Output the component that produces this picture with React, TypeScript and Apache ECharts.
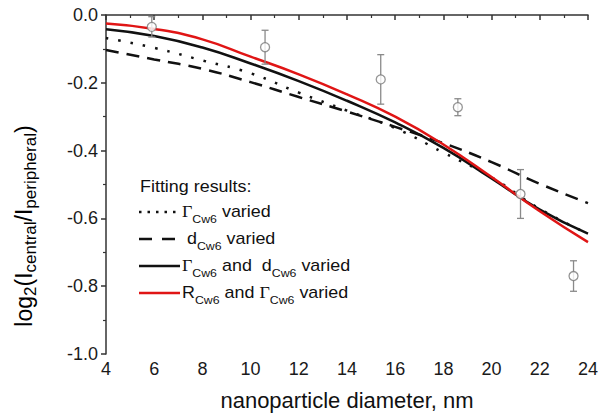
import React, { useEffect, useRef } from 'react';
import * as echarts from 'echarts';

const xFit = [4, 6, 8, 10, 12, 14, 16, 18, 20, 22, 24];
const fitGammaVaried = [-0.068, -0.097, -0.134, -0.172, -0.229, -0.282, -0.334, -0.406, -0.479, -0.572, -0.645];
const fitDVaried = [-0.103, -0.131, -0.159, -0.198, -0.242, -0.285, -0.330, -0.378, -0.434, -0.498, -0.555];
const fitGammaDVaried = [-0.042, -0.062, -0.096, -0.143, -0.195, -0.253, -0.317, -0.392, -0.482, -0.574, -0.645];
const fitRGammaVaried = [-0.025, -0.041, -0.072, -0.123, -0.175, -0.234, -0.300, -0.382, -0.478, -0.579, -0.670];

const expX = [5.9, 10.6, 15.4, 18.6, 21.2, 23.4];
const expY = [-0.035, -0.095, -0.19, -0.272, -0.528, -0.77];
const expErr = [0.03, 0.05, 0.073, 0.025, 0.072, 0.045];

const yTicks = [0, -0.2, -0.4, -0.6, -0.8, -1.0];

const FONT = '"Liberation Sans", Arial, sans-serif';
const SERIF = '"Liberation Serif", "Times New Roman", serif';

const pair = (xs: number[], ys: number[]) => xs.map((x, i) => [x, ys[i]]);

export default function App() {
  const ref = useRef<HTMLDivElement>(null);
  useEffect(() => {
    if (!ref.current) return;
    const chart = echarts.init(ref.current, undefined, { renderer: 'svg' });
    const richLegend = {
      n: { fontSize: 16, fontFamily: FONT, color: '#111', lineHeight: 24, verticalAlign: 'middle' },
      g: { fontSize: 16, fontFamily: SERIF, color: '#111', lineHeight: 24, verticalAlign: 'middle' },
      s: { fontSize: 11, fontFamily: FONT, color: '#111', lineHeight: 10, verticalAlign: 'bottom' },
    };
    const legendRows = [
      { y: 212, text: '{g|Γ}{s|Cw6}{n| varied}', tx: 182, line: { stroke: '#111', lineDash: [2.5, 6], x1: 139, x2: 180 } },
      { y: 239, text: '{n|d}{s|Cw6}{n| varied}', tx: 187, line: { stroke: '#111', lineDash: [13, 10], x1: 139, x2: 176 } },
      { y: 266, text: '{g|Γ}{s|Cw6}{n| and  d}{s|Cw6}{n| varied}', tx: 182, line: { stroke: '#111', lineDash: null, x1: 139, x2: 180 } },
      { y: 293, text: '{n|R}{s|Cw6}{n| and }{g|Γ}{s|Cw6}{n| varied}', tx: 182, line: { stroke: '#e01515', lineDash: null, x1: 139, x2: 180 } },
    ];
    const graphic: any[] = [
      {
        type: 'text', x: 140, y: 187, scaleX: 1.12,
        style: { text: 'Fitting results:', font: `16px ${FONT}`, fill: '#111', align: 'left', verticalAlign: 'middle' },
      },
    ];
    legendRows.forEach((r) => {
      graphic.push({
        type: 'line',
        shape: { x1: r.line.x1, y1: r.y, x2: r.line.x2, y2: r.y },
        style: { stroke: r.line.stroke, lineWidth: 2.5, lineDash: r.line.lineDash || undefined },
      });
      graphic.push({
        type: 'text', x: r.tx, y: r.y, scaleX: 1.12,
        style: { text: r.text, rich: richLegend, fill: '#111', align: 'left', verticalAlign: 'middle' },
      });
    });
    graphic.push({
      type: 'text', x: 24, y: 226, rotation: Math.PI / 2,
      style: {
        text: '{m|log}{s|2}{m|(I}{s|central}{m|/I}{s|peripheral}{m|)}',
        align: 'center', verticalAlign: 'middle',
        rich: {
          m: { fontSize: 23, fontFamily: FONT, color: '#111', lineHeight: 30, verticalAlign: 'middle' },
          s: { fontSize: 17, fontFamily: FONT, color: '#111', lineHeight: 12, verticalAlign: 'bottom' },
        },
      },
    });

    const errorBars = expX.map((x, i) => [x, expY[i], expErr[i]]);

    chart.setOption({
      animation: false,
      backgroundColor: '#fff',
      grid: { left: 106, right: 10, top: 15, bottom: 65, containLabel: false },
      xAxis: {
        type: 'value', min: 4, max: 24, interval: 2,
        name: 'nanoparticle diameter, nm', nameLocation: 'middle', nameGap: 35,
        nameTextStyle: { fontSize: 22, fontFamily: FONT, color: '#111' },
        axisLine: { show: true, lineStyle: { color: '#333', width: 1.5 } },
        axisTick: { show: true, length: 5, lineStyle: { color: '#333', width: 1.5 } },
        minorTick: { show: true, splitNumber: 2, length: 3, lineStyle: { color: '#333', width: 1.2 } },
        axisLabel: { fontSize: 18, fontFamily: FONT, color: '#1a1a1a', margin: 6 },
        splitLine: { show: false },
      },
      yAxis: {
        type: 'value', min: -1, max: 0, interval: 0.2,
        axisLine: { show: true, lineStyle: { color: '#333', width: 1.5 } },
        axisTick: { show: true, length: 5, lineStyle: { color: '#333', width: 1.5 } },
        minorTick: { show: true, splitNumber: 2, length: 3, lineStyle: { color: '#333', width: 1.2 } },
        axisLabel: {
          fontSize: 18, fontFamily: FONT, color: '#1a1a1a', margin: 8,
          formatter: (v: number) => {
            const t = yTicks.find((k) => Math.abs(k - v) < 1e-6);
            return (t !== undefined ? t : v).toFixed(1);
          },
        },
        splitLine: { show: false },
      },
      graphic,
      series: [
        {
          type: 'line', name: 'dCw6 varied', data: pair(xFit, fitDVaried), smooth: true, showSymbol: false,
          lineStyle: { color: '#111', width: 2.5, type: [13, 8] }, z: 2,
        },
        {
          type: 'line', name: 'ΓCw6 varied', data: pair(xFit, fitGammaVaried), smooth: true, showSymbol: false,
          lineStyle: { color: '#111', width: 2.5, type: [2.5, 10] }, z: 2,
        },
        {
          type: 'line', name: 'ΓCw6 and dCw6 varied', data: pair(xFit, fitGammaDVaried), smooth: true, showSymbol: false,
          lineStyle: { color: '#111', width: 2.5 }, z: 3,
        },
        {
          type: 'line', name: 'RCw6 and ΓCw6 varied', data: pair(xFit, fitRGammaVaried), smooth: true, showSymbol: false,
          lineStyle: { color: '#e01515', width: 2.5 }, z: 4,
        },
        {
          type: 'custom', name: 'error', data: errorBars, z: 5,
          renderItem: (params: any, api: any) => {
            const x = api.value(0), y = api.value(1), e = api.value(2);
            const top = api.coord([x, y + e]);
            const bot = api.coord([x, y - e]);
            const hw = 3.5;
            const st = { stroke: '#8a8a8a', lineWidth: 1.3 };
            return {
              type: 'group',
              children: [
                { type: 'line', shape: { x1: top[0], y1: top[1], x2: bot[0], y2: bot[1] }, style: st },
                { type: 'line', shape: { x1: top[0] - hw, y1: top[1], x2: top[0] + hw, y2: top[1] }, style: st },
                { type: 'line', shape: { x1: bot[0] - hw, y1: bot[1], x2: bot[0] + hw, y2: bot[1] }, style: st },
              ],
            };
          },
        },
        {
          type: 'scatter', name: 'experiment', data: pair(expX, expY), symbol: 'circle', symbolSize: 9, z: 6,
          itemStyle: { color: '#fff', borderColor: '#7a7a7a', borderWidth: 1.3 },
        },
      ],
    });
    return () => chart.dispose();
  }, []);
  return <div ref={ref} style={{ width: 601, height: 419, position: 'absolute', left: 0, top: 0 }} />;
}
